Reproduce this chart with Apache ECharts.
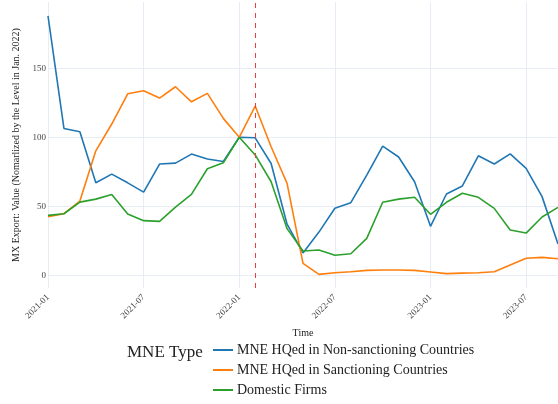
<!DOCTYPE html>
<html>
<head>
<meta charset="utf-8">
<script src="https://cdn.jsdelivr.net/npm/echarts@6/dist/echarts.min.js"></script>
<style>
  html, body { margin: 0; padding: 0; background: #fff; }
  #chart { width: 558px; height: 404px; }
</style>
</head>
<body>
<div id="chart"></div>
<script>
// monthly categories
var months = [
  "2021-01", "2021-02", "2021-03", "2021-04", "2021-05", "2021-06",
  "2021-07", "2021-08", "2021-09", "2021-10", "2021-11", "2021-12",
  "2022-01", "2022-02", "2022-03", "2022-04", "2022-05", "2022-06",
  "2022-07", "2022-08", "2022-09", "2022-10", "2022-11", "2022-12",
  "2023-01", "2023-02", "2023-03", "2023-04", "2023-05", "2023-06",
  "2023-07", "2023-08", "2023-09"
];

var nonSanctioning = [
  188, 106.4, 104, 67, 73.3, 67, 60.3, 80.6, 81.3, 87.8, 84.2, 82.5,
  100, 99.6, 81, 37, 16.2, 31.3, 48.6, 52.6, 72.6, 93.6, 85.7, 67.8,
  35.5, 58.9, 64.7, 86.6, 80.6, 88, 77.5, 57, 22.6
];

var sanctioning = [
  42.4, 44.6, 53.8, 90.2, 109.6, 131.5, 133.7, 128.4, 136.6, 125.7, 131.8, 113.7,
  100, 122.6, 93.1, 66.6, 8.6, 0.7, 1.9, 2.6, 3.6, 3.8, 3.8, 3.6,
  2.4, 1.2, 1.6, 1.9, 2.6, 7.5, 12.3, 13, 12
];

var domestic = [
  43.4, 44.6, 53, 55.2, 58.6, 44.4, 39.6, 39.1, 49.4, 58.6, 77.2, 81.5,
  100, 87.2, 67.8, 33.8, 17.6, 18.3, 14.5, 15.6, 26.8, 52.9, 55.2, 56.5,
  44.2, 52.9, 59.4, 56.5, 48.5, 32.8, 30.6, 42.2, 49.2
];

var yTicks = [0, 50, 100, 150];
var eventMonth = "2022-02"; // 制裁开始

var seriesNames = [
  "MNE HQed in Non-sanctioning Countries",
  "MNE HQed in Sanctioning Countries",
  "Domestic Firms"
];
var colors = ["#1f77b4", "#ff7f0e", "#2ca02c"];

var font = "Liberation Serif, Times New Roman, serif";
var gridColor = "#e8edf5";
var textColor = "#222";

var myChart = echarts.init(document.getElementById("chart"));

var option = {
  animation: false,
  textStyle: { fontFamily: font },
  graphic: [
    {
      type: "text",
      left: 127,
      top: 344,
      style: {
        text: "MNE Type",
        fontFamily: font,
        fontSize: 17,
        fill: textColor
      }
    }
  ],
  legend: {
    orient: "vertical",
    left: 213,
    top: 343,
    height: 70,
    padding: 0,
    itemGap: 6,
    itemWidth: 20,
    itemHeight: 2,
    icon: "rect",
    textStyle: { fontFamily: font, fontSize: 14, color: textColor, padding: [0, 0, 0, -1] },
    data: seriesNames
  },
  grid: {
    left: 48,
    right: 0,
    top: 2,
    bottom: 116
  },
  xAxis: {
    type: "category",
    data: months,
    boundaryGap: false,
    name: "Time",
    nameLocation: "middle",
    nameGap: 40,
    nameTextStyle: { fontFamily: font, fontSize: 10, color: textColor },
    axisLine: { show: false },
    axisTick: { show: false },
    axisLabel: {
      interval: 5,
      rotate: 45,
      fontFamily: font,
      fontSize: 9,
      color: "#444",
      margin: 8
    },
    splitLine: {
      show: true,
      interval: 5,
      lineStyle: { color: gridColor, width: 1 }
    }
  },
  yAxis: {
    type: "value",
    min: -9.2,
    max: 198,
    name: "MX Export: Value (Nomarlized by the Level in Jan. 2022)",
    nameLocation: "middle",
    nameGap: 27,
    nameTextStyle: { fontFamily: font, fontSize: 10, color: textColor },
    axisLine: { show: false },
    axisTick: { show: false, customValues: yTicks },
    axisLabel: {
      customValues: yTicks,
      fontFamily: font,
      fontSize: 9,
      color: "#444",
      margin: 2
    },
    splitLine: {
      show: true,
      lineStyle: { color: gridColor, width: 1 }
    }
  },
  series: [
    {
      name: seriesNames[0],
      type: "line",
      data: nonSanctioning,
      symbol: "none",
      lineStyle: { width: 1.6 },
      itemStyle: { color: colors[0] },
      z: 3
    },
    {
      name: seriesNames[1],
      type: "line",
      data: sanctioning,
      symbol: "none",
      lineStyle: { width: 1.6 },
      itemStyle: { color: colors[1] },
      z: 3
    },
    {
      name: seriesNames[2],
      type: "line",
      data: domestic,
      symbol: "none",
      lineStyle: { width: 1.6 },
      itemStyle: { color: colors[2] },
      z: 3,
      markLine: {
        silent: true,
        symbol: "none",
        label: { show: false },
        lineStyle: { color: "#e8423f", type: [5, 5], width: 1 },
        data: [{ xAxis: eventMonth }]
      }
    }
  ]
};

myChart.setOption(option);
window.addEventListener("resize", function () {
  myChart.resize();
});
</script>
</body>
</html>
